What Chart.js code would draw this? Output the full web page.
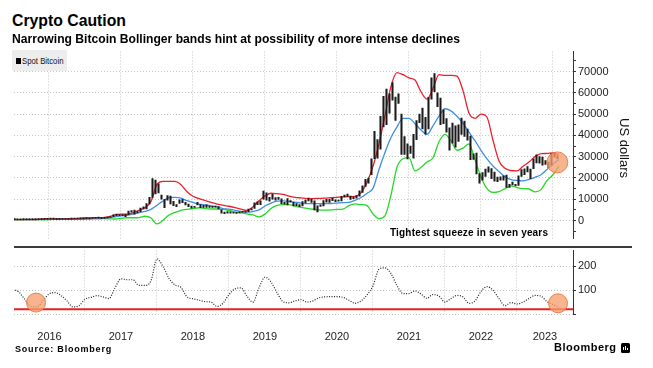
<!DOCTYPE html>
<html><head><meta charset="utf-8">
<script src="https://cdn.jsdelivr.net/npm/chart.js@4.4.0/dist/chart.umd.min.js"></script>
<style>
html,body{margin:0;padding:0;background:#fff;}
#wrap{position:relative;width:653px;height:368px;overflow:hidden;font-family:"Liberation Sans",Arial,sans-serif;color:#000;background:#fff;}
.t{position:absolute;white-space:nowrap;transform-origin:0 50%;}
canvas{position:absolute;left:0;}
</style></head><body>
<div id="wrap">
 <canvas id="top" width="653" height="210" style="top:40px"></canvas>
 <canvas id="bot" width="653" height="115" style="top:240px"></canvas>
 <div style="position:absolute;left:14px;top:246px;width:618px;height:2px;background:#3a3a3a"></div>
 <div class="t" data-w="114" style="left:12px;top:12.3px;font-size:17px;line-height:17px;font-weight:bold">Crypto Caution</div>
 <div class="t" data-w="448" style="left:12px;top:31.7px;font-size:13px;line-height:13px;font-weight:bold">Narrowing Bitcoin Bollinger bands hint at possibility of more intense declines</div>
 <div style="position:absolute;left:12px;top:50px;width:55px;height:21px;background:#ededed"></div>
 <div style="position:absolute;left:16px;top:58px;width:5px;height:6px;background:#000"></div>
 <div class="t" data-w="41.5" style="left:22px;top:56.5px;font-size:8.5px;line-height:9px;color:#111">Spot Bitcoin</div>
 <div style="position:absolute;left:618px;top:118px;width:13px;writing-mode:vertical-rl;white-space:nowrap;font-size:13px;line-height:13px;font-weight:normal;color:#111">US dollars</div>
 <div class="t" data-w="158" style="left:390px;top:227.5px;font-size:10px;line-height:10px;font-weight:bold">Tightest squeeze in seven years</div>
 <div class="t" data-w="97" style="left:15px;top:344.7px;font-size:9px;line-height:9px;font-weight:bold">Source:  Bloomberg</div>
 <div class="t" data-w="62" style="left:554px;top:342.4px;font-size:11px;line-height:11px;font-weight:bold">Bloomberg</div>
 <div style="position:absolute;left:621px;top:343px;width:9px;height:10px;background:#000;border-radius:1.5px">
   <div style="position:absolute;left:2px;top:4px;width:1px;height:3px;background:#fff"></div>
   <div style="position:absolute;left:4px;top:3px;width:1px;height:4px;background:#fff"></div>
   <div style="position:absolute;left:6px;top:5px;width:1px;height:2px;background:#fff"></div>
 </div>
</div>
<script>
// ---------- DATA ----------
const START_YEAR = 2016;          // first month = Jan 2016, monthly values below
const yearLabels = ['2016','2017','2018','2019','2020','2021','2022','2023'];
const gridYears = [2017,2018,2019,2020,2021,2022,2023];

// Bollinger bands (monthly, Jan 2016 .. Aug 2023), US dollars
const upperBand = [
 480,450,440,450,480,750,800,700,650,700,770,950,
 1200,1250,1350,1400,1800,2700,3000,3000,3600,4800,6000,9000,
 17000,18400,18400,18400,16800,13500,11400,10300,9400,8500,7700,7200,
 6700,6100,5300,4700,6500,9300,11500,12800,12600,12300,11500,10900,
 10600,10300,10300,10400,10500,10700,10900,11100,11200,11300,13000,18000,
 25500,36000,49300,63000,69500,68500,67000,66000,60500,57000,62000,68500,
 68200,68200,67800,61000,50500,48000,50000,48500,37700,28000,24500,23500,
 23300,25500,27500,30000,31400,31500,31800,30800];
const middleBand = [
 420,400,410,425,440,560,640,620,610,620,690,780,
 900,980,1050,1120,1300,1700,2200,2450,3000,3700,4300,5200,
 7200,9100,10700,10900,10500,9300,8500,7700,7300,6900,6400,5600,
 5300,4800,4300,3900,4300,5000,6800,8200,9100,9200,9000,8600,
 8200,7900,7900,7900,7900,8000,8200,8400,8500,9500,10800,12800,
 15100,24000,32000,39000,44000,48000,48000,45500,42500,40500,44500,49000,
 52500,51500,49000,45700,41500,37500,33000,29000,25600,23000,20500,19200,
 18800,18600,19300,20300,21500,24000,26500,28600];
const lowerBand = [
 360,350,380,400,400,370,480,560,580,540,610,610,
 600,720,750,850,800,700,1000,1300,1300,1400,2000,1200,
 -1600,100,2600,3800,4800,5200,5600,6000,5600,5400,5400,5200,
 4700,4100,3600,3100,2600,1700,3000,5600,7100,7500,7500,6800,
 6200,5700,5300,5000,4900,5000,5200,5400,7000,7800,7500,7000,
 3100,900,2200,12000,25000,29000,29500,23300,25000,27500,29500,37000,
 40500,37500,33000,34000,36000,28500,20500,15000,13200,13600,15000,16300,
 15500,15000,14800,13500,14500,18800,21500,25500];
// Band width (monthly)
const bandWidth = [
 104,92,60,32,30,57,84,90,78,55,30,35,
 62,70,77,72,65,110,148,144,144,120,120,140,
 232,200,150,122,112,72,64,58,52,50,32,45,
 82,105,110,75,50,110,155,135,90,52,47,55,
 60,50,55,68,72,73,73,70,58,45,55,80,
 118,188,194,170,120,86,86,97,84,66,82,75,
 50,65,78,72,45,55,95,115,100,65,35,48,
 42,50,65,78,75,52,40,27];
// Spot Bitcoin, half-month ranges (low / high), Jan 2016 .. Jul 2023
const priceLow = [
 420,360,370,400,400,405,415,420,440,440,530,560,620,650,540,570,600,590,605,630,690,700,750,790,
 880,760,960,1050,1150,890,1040,1180,1400,1800,2250,2300,2300,1850,2700,3900,3000,3600,4200,5500,5500,7800,10800,12500,
 13000,10000,6000,9500,7800,7000,6500,8000,8400,7300,6500,5800,6100,7300,6000,6200,6200,6200,6200,6300,5500,3500,3200,3500,
 3500,3400,3350,3600,3800,3900,4100,5000,5700,7500,7500,10000,9500,9100,10000,9500,9900,7900,7700,7300,8600,6800,7000,6500,
 6900,8300,9200,8500,5000,4000,6600,6900,8600,8500,9300,8900,9100,9200,11100,11300,9900,10300,10500,11400,13200,16000,17600,21500,
 29000,29300,33500,44000,45000,50400,56500,47000,55000,31000,31100,28900,31500,29300,38000,46000,43000,40600,43000,57000,60500,53500,45000,45500,
 41500,33000,36300,34400,37200,40500,39500,37700,28600,28700,21900,17600,18900,20700,22700,19600,18500,18200,18900,19000,15500,15600,16700,16300,
 16500,20700,21500,22800,19600,24300,27000,26900,26000,26300,24800,26000,29800,29100];
const priceHigh = [
 460,420,410,440,440,425,425,465,460,540,720,770,680,680,600,590,620,610,640,710,745,750,780,975,
 1150,930,1040,1200,1290,1100,1200,1350,1850,2700,2980,2800,2650,2850,4400,4700,4900,4200,5800,6400,7900,10900,19700,19000,
 17200,12000,10000,11700,11500,9000,7500,9700,9900,8500,7700,6800,6700,8500,7500,7100,7400,6800,6700,6500,6500,5000,4000,4200,
 4100,3700,3650,4100,4000,4100,5400,5600,8300,8800,9300,13800,13000,10900,12300,10800,10900,10200,8600,10300,9400,8500,7900,7500,
 8900,9600,10500,10000,9200,6900,7400,9400,10000,9900,10400,9700,9400,11400,12000,12400,11500,11000,11700,14000,16300,19400,19900,29000,
 41900,38000,49000,58300,61700,59500,64800,58000,59500,50000,39400,36000,35000,40500,47000,50000,52800,48500,57900,67000,69000,60000,57500,52000,
 47900,43500,45800,44500,45000,48100,46700,42900,39700,31300,31700,22000,22500,24200,25200,24400,22700,20400,20500,21000,21400,17000,18000,17000,
 21000,23900,24300,25300,24200,29000,30900,30000,29800,28200,27400,31400,31800,30400];
const squeezeThreshold = 20;
const topHighlight = [{x:2023.56, y:27300}];
const bottomHighlights = [{x:2016.32, y:48}, {x:2023.57, y:45}];

// ---------- BUILD ----------
const X_MIN = 2016.014, X_MAX = 2023.778;
const monthX = i => START_YEAR + i/12;
const halfX = i => START_YEAR + (i/2 + 0.25)/12;
const pts = arr => arr.map((v,i)=>({x:monthX(i), y:v}));
const bars = priceLow.map((lo,i)=>({x:halfX(i), y:[lo, priceHigh[i]]}));
const yearLabelPos = yearLabels.map(l => { const y=+l; return (Math.max(y,X_MIN)+Math.min(y+1,X_MAX))/2; });

const GRID = '#c4c4c4';
const AX = '#333';
const FONT = {family:'"Liberation Sans", Arial, sans-serif', size:11};

new Chart(document.getElementById('top'), {
  type:'bar',
  data:{datasets:[
    {type:'line', data:topHighlight, showLine:false, pointRadius:10.5, pointBackgroundColor:'rgba(246,158,112,0.78)', pointBorderColor:'rgba(236,120,60,0.9)', pointBorderWidth:1, order:0},
    {type:'bar', data:bars, backgroundColor:'#1a1a1a', barThickness:1.4, minBarLength:1, order:1},
    {type:'line', data:pts(upperBand), borderColor:'#ec1f2b', borderWidth:1.3, pointRadius:0, cubicInterpolationMode:'monotone', order:2},
    {type:'line', data:pts(middleBand), borderColor:'#3f8fe3', borderWidth:1.3, pointRadius:0, cubicInterpolationMode:'monotone', order:3},
    {type:'line', data:pts(lowerBand), borderColor:'#26d926', borderWidth:1.3, pointRadius:0, cubicInterpolationMode:'monotone', order:4}
  ]},
  options:{
    responsive:false, animation:false, events:[],
    layout:{padding:{left:14, top:10, right:0, bottom:4}},
    plugins:{legend:{display:false}, tooltip:{enabled:false}},
    scales:{
      x:{type:'linear', min:X_MIN, max:X_MAX, offset:false,
         afterBuildTicks:s=>{s.ticks=gridYears.map(v=>({value:v}));},
         ticks:{display:false}, grid:{color:GRID, drawTicks:false},
         border:{display:false, dash:[1,2]},
         afterFit:s=>{s.height=0; s.paddingLeft=0; s.paddingRight=0;}},
      y:{type:'linear', position:'right', min:-8450, max:79400,
         afterBuildTicks:s=>{const t=[]; for(let v=-5000; v<=75000; v+=5000) t.push({value:v}); s.ticks=t;},
         ticks:{callback:v=>(v%10000===0?String(v):''), font:FONT, color:'#222', padding:2, autoSkip:false},
         grid:{color:c=>(c.tick && c.tick.value%10000===0)?GRID:'rgba(0,0,0,0)', tickColor:AX, tickLength:3},
         border:{display:true, color:AX, width:1, dash:[1,2]},
         afterFit:s=>{s.width=80; s.paddingTop=0; s.paddingBottom=0;}}
    }
  }
});

new Chart(document.getElementById('bot'), {
  type:'line',
  data:{datasets:[
    {data:bottomHighlights, showLine:false, pointRadius:9.5, pointBackgroundColor:'rgba(246,158,112,0.78)', pointBorderColor:'rgba(236,120,60,0.9)', pointBorderWidth:1, order:0},
    {data:[{x:X_MIN,y:squeezeThreshold},{x:X_MAX,y:squeezeThreshold}], borderColor:'#e8201e', borderWidth:2, pointRadius:0, order:2},
    {data:pts(bandWidth), borderColor:'#222', borderWidth:1.2, borderDash:[1,1.5], pointRadius:0, cubicInterpolationMode:'monotone', order:1}
  ]},
  options:{
    responsive:false, animation:false, events:[],
    layout:{padding:{left:14, top:8, right:0, bottom:0}},
    plugins:{legend:{display:false}, tooltip:{enabled:false}},
    scales:{
      x:{type:'linear', position:'bottom', min:X_MIN, max:X_MAX, offset:false,
         afterBuildTicks:s=>{s.ticks=yearLabelPos.map(v=>({value:v}));},
         ticks:{callback:(v,i)=>yearLabels[i], font:FONT, color:'#222', padding:8, maxRotation:0, minRotation:0, autoSkip:false},
         grid:{display:false}, border:{display:false},
         afterFit:s=>{s.height=41; s.paddingLeft=0; s.paddingRight=0;}},
      xg:{type:'linear', position:'bottom', min:X_MIN, max:X_MAX, offset:false,
         afterBuildTicks:s=>{s.ticks=gridYears.map(v=>({value:v}));},
         ticks:{display:false}, grid:{color:GRID, drawTicks:false},
         border:{display:false, dash:[1,2]},
         afterFit:s=>{s.height=0; s.paddingLeft=0; s.paddingRight=0;}},
      y:{type:'linear', position:'right', min:0, max:267,
         afterBuildTicks:s=>{s.ticks=[0,100,200].map(v=>({value:v}));},
         ticks:{callback:v=>(v===0?'':String(v)), font:FONT, color:'#222', padding:2, autoSkip:false},
         grid:{color:GRID, tickColor:AX, tickLength:3},
         border:{display:true, color:AX, width:1, dash:[1,2]},
         afterFit:s=>{s.width=80; s.paddingTop=0; s.paddingBottom=0;}}
    }
  }
});

// fit text widths to the reference
document.querySelectorAll('[data-w]').forEach(el=>{
  const target = +el.dataset.w;
  const w = el.getBoundingClientRect().width;
  if (w > target) el.style.transform = 'scaleX(' + (target/w) + ')';
  else el.style.letterSpacing = ((target - w) / Math.max(1, el.textContent.length - 1)) + 'px';
});
</script>
</body></html>
